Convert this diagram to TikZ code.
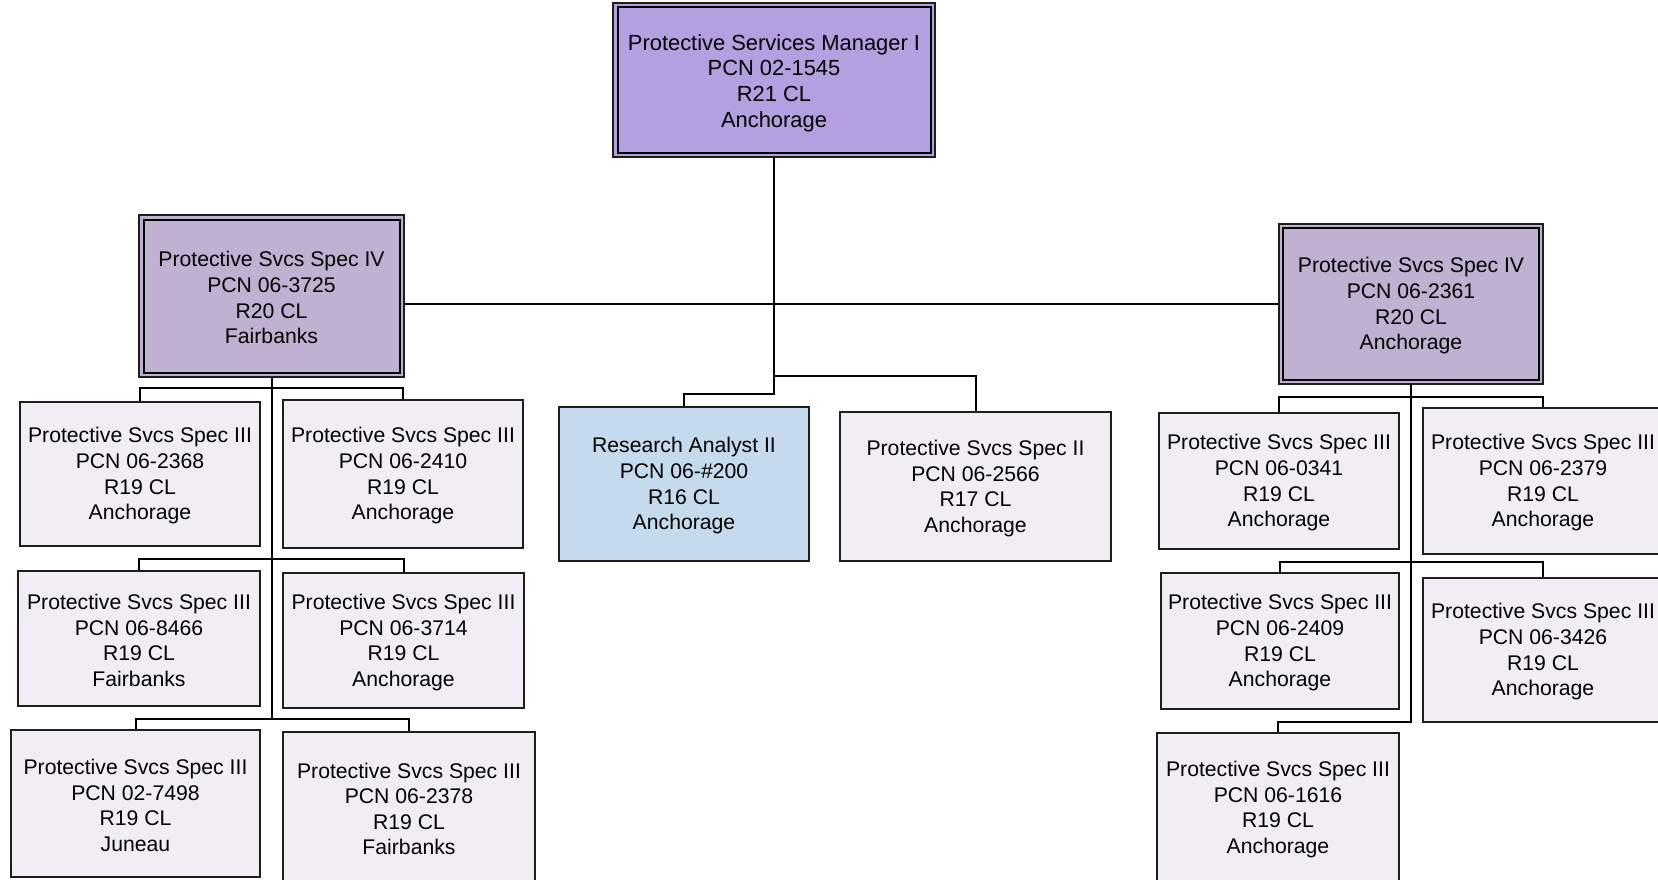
\documentclass[tikz,border=0pt]{standalone}
\usepackage{fontspec}
\setmainfont{Liberation Sans}
\definecolor{topfill}{RGB}{180,160,224}
\definecolor{ivfill}{RGB}{192,176,210}
\definecolor{rafill}{RGB}{198,218,238}
\definecolor{specfill}{RGB}{240,238,244}
\definecolor{edge}{RGB}{30,30,30}
\newcommand{\tpad}{\rule{0pt}{19pt}}
\newcommand{\tpadtop}{\rule{0pt}{22pt}}
\tikzset{
  box/.style={draw=edge, line width=1.6pt, inner sep=0pt, align=center,
    font=\fontsize{21.2}{25.6}\selectfont},
  specbox/.style={box, fill=specfill},
  rabox/.style={box, fill=rafill},
  ivbox/.style={box, fill=ivfill, line width=1.3pt},
  topbox/.style={box, fill=topfill, line width=1.3pt, font=\fontsize{21.9}{25.6}\selectfont},
  innerline/.style={draw=black, line width=2pt},
  conn/.style={draw=black, line width=2pt}
}
\begin{document}
\begin{tikzpicture}[x=1pt,y=-1pt]
\useasboundingbox (0,0) rectangle (1658,880);
\fill[white] (0,0) rectangle (1658,880);

% top
\node[topbox, minimum width=322, minimum height=154] (T) at (774,80)
  {\tpadtop Protective Services Manager I\\PCN 02-1545\\R21 CL\\Anchorage};
\draw[innerline] ([shift={(6,5)}]T.north west) rectangle ([shift={(-5,-5)}]T.south east);

% second level
\node[ivbox, minimum width=265, minimum height=162] (L) at (271.5,296)
  {\tpad Protective Svcs Spec IV\\PCN 06-3725\\R20 CL\\Fairbanks};
\draw[innerline] ([shift={(6,6)}]L.north west) rectangle ([shift={(-5,-5)}]L.south east);
\node[ivbox, minimum width=264, minimum height=160] (R) at (1411,304)
  {\tpad Protective Svcs Spec IV\\PCN 06-2361\\R20 CL\\Anchorage};
\draw[innerline] ([shift={(5,5)}]R.north west) rectangle ([shift={(-5,-5)}]R.south east);

\node[rabox, minimum width=250, minimum height=154] (RA) at (684,484)
  {\tpad Research Analyst II\\PCN 06-\#200\\R16 CL\\Anchorage};
\node[specbox, minimum width=271, minimum height=149] (S2) at (975.5,486.5)
  {\tpad Protective Svcs Spec II\\PCN 06-2566\\R17 CL\\Anchorage};

% left group
\node[specbox, minimum width=240, minimum height=144] (A) at (140,474)
  {\tpad Protective Svcs Spec III\\PCN 06-2368\\R19 CL\\Anchorage};
\node[specbox, minimum width=240, minimum height=148] (B) at (403,474)
  {\tpad Protective Svcs Spec III\\PCN 06-2410\\R19 CL\\Anchorage};
\node[specbox, minimum width=242, minimum height=135] (C) at (139,638.5)
  {\tpad Protective Svcs Spec III\\PCN 06-8466\\R19 CL\\Fairbanks};
\node[specbox, minimum width=241, minimum height=135] (D) at (403.5,640.5)
  {\tpad Protective Svcs Spec III\\PCN 06-3714\\R19 CL\\Anchorage};
\node[specbox, minimum width=249, minimum height=147] (E) at (135.5,803.5)
  {\tpad Protective Svcs Spec III\\PCN 02-7498\\R19 CL\\Juneau};
\node[specbox, minimum width=252, minimum height=150] (F) at (409,807)
  {\tpad Protective Svcs Spec III\\PCN 06-2378\\R19 CL\\Fairbanks};

% right group
\node[specbox, minimum width=240, minimum height=136] (G) at (1279,481)
  {\tpad Protective Svcs Spec III\\PCN 06-0341\\R19 CL\\Anchorage};
\node[specbox, minimum width=240, minimum height=146] (H) at (1543,481)
  {\tpad Protective Svcs Spec III\\PCN 06-2379\\R19 CL\\Anchorage};
\node[specbox, minimum width=238, minimum height=136] (I) at (1280,641)
  {\tpad Protective Svcs Spec III\\PCN 06-2409\\R19 CL\\Anchorage};
\node[specbox, minimum width=240, minimum height=144] (J) at (1543,650)
  {\tpad Protective Svcs Spec III\\PCN 06-3426\\R19 CL\\Anchorage};
\node[specbox, minimum width=242, minimum height=149] (K) at (1278,807.5)
  {\tpad Protective Svcs Spec III\\PCN 06-1616\\R19 CL\\Anchorage};

% bus coordinates
\coordinate (mb1) at (776,394);
\coordinate (mb2) at (776,376);
\coordinate (lb1) at (272,388);
\coordinate (lb2) at (272,559);
\coordinate (lb3) at (272,719);
\coordinate (rb1) at (1411,397);
\coordinate (rb2) at (1411,562);
\coordinate (rb3) at (1411,722);

% connectors
\draw[conn] (L.east |- R.west) -- (R.west);
\draw[conn] (T.south) |- (RA.north |- mb1) -- (RA.north);
\draw[conn] (T.south |- mb2) -| (S2.north);

\draw[conn] (L.south) -- (L.south |- lb3);
\draw[conn] (A.north) |- (lb1) -| (B.north);
\draw[conn] (C.north) |- (lb2) -| (D.north);
\draw[conn] (E.north) |- (lb3) -| (F.north);

\draw[conn] (R.south) |- (K.north |- rb3) -- (K.north);
\draw[conn] (G.north) |- (rb1) -| (H.north);
\draw[conn] (I.north) |- (rb2) -| (J.north);
\end{tikzpicture}
\end{document}
